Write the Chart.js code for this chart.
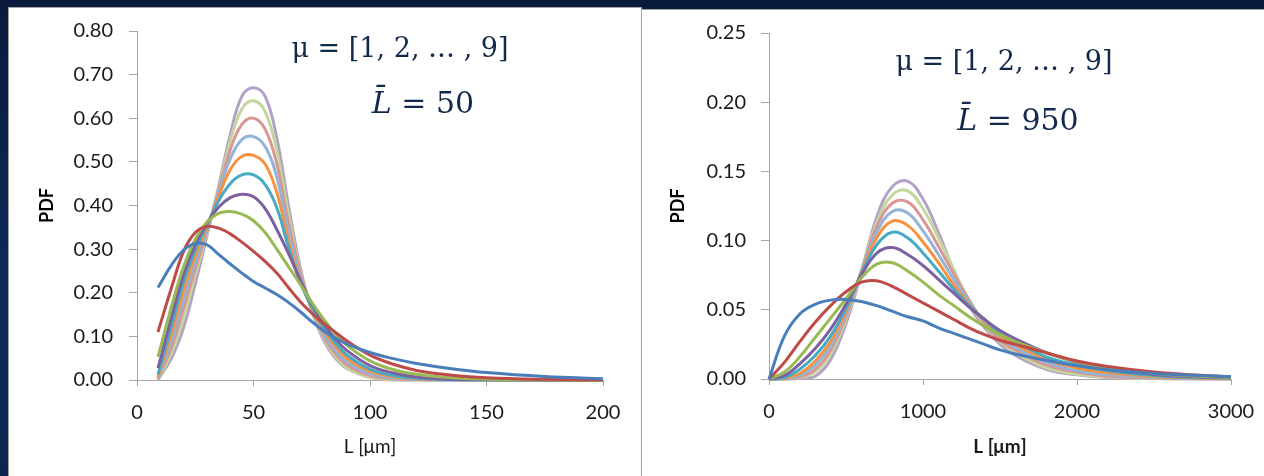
<!DOCTYPE html>
<html>
<head>
<meta charset="utf-8">
<script src="https://cdn.jsdelivr.net/npm/chart.js@4.4.0/dist/chart.umd.min.js"></script>
<style>
  html, body { margin: 0; padding: 0; }
  body { width: 1264px; height: 476px; overflow: hidden; position: relative;
         background: linear-gradient(180deg, #0a1a3c 0%, #0e2a5a 60%, #0c2550 100%); }
  .panel { position: absolute; background: #fff; box-sizing: border-box; border: 1px solid #a3a3a3; }
  canvas { position: absolute; }
  .ann { position: absolute; transform: translate(-50%, -50%); white-space: pre;
         font-family: "DejaVu Serif", "Liberation Serif", serif; color: #13294b; font-size: 27px; }
  .ann.big { font-size: 30px; }
  .ann i { font-style: italic; }
</style>
</head>
<body>
<div class="panel" style="left:8px; top:7px; width:634px; height:480px;"></div>
<div class="panel" style="left:641px; top:9px; width:630px; height:480px;"></div>
<canvas id="c1" width="632" height="469" style="left:8px; top:7px;"></canvas>
<canvas id="c2" width="623" height="467" style="left:641px; top:9px;"></canvas>
<div class="ann" style="left:400px; top:47px;">μ = [1, 2, … , 9]</div>
<div class="ann big" style="left:423px; top:102px;"><i>L̄</i> = 50</div>
<div class="ann" style="left:1004px; top:60px;">μ = [1, 2, … , 9]</div>
<div class="ann big" style="left:1018px; top:119px;"><i>L̄</i> = 950</div>
<script>
// ---------- Left chart data (L̄ = 50) ----------
const leftL = [9, 15, 20, 25, 30, 35, 40, 45, 50, 55, 60, 65, 70, 75, 80, 85, 90, 100, 110, 120, 135, 150, 175, 200];
const leftMu1 = [0.212, 0.265, 0.298, 0.313, 0.310, 0.288, 0.266, 0.245, 0.226, 0.211, 0.196, 0.178, 0.157, 0.134, 0.113, 0.097, 0.083, 0.063, 0.049, 0.038, 0.026, 0.017, 0.008, 0.003];
const leftMu2 = [0.110, 0.215, 0.295, 0.338, 0.352, 0.348, 0.335, 0.316, 0.295, 0.272, 0.245, 0.212, 0.180, 0.153, 0.130, 0.110, 0.090, 0.057, 0.036, 0.022, 0.011, 0.005, 0.0015, 0.0005];
const leftMu3 = [0.053, 0.172, 0.260, 0.323, 0.362, 0.382, 0.386, 0.380, 0.365, 0.338, 0.300, 0.260, 0.220, 0.178, 0.140, 0.107, 0.080, 0.044, 0.024, 0.013, 0.005, 0.002, 0.0005, 0];
const leftMu4 = [0.027, 0.148, 0.242, 0.310, 0.360, 0.396, 0.418, 0.426, 0.420, 0.393, 0.345, 0.290, 0.230, 0.175, 0.130, 0.095, 0.068, 0.033, 0.016, 0.007, 0.002, 0.001, 0, 0];
const leftMu5 = [0.013, 0.128, 0.225, 0.298, 0.355, 0.410, 0.450, 0.470, 0.470, 0.448, 0.395, 0.305, 0.225, 0.168, 0.122, 0.086, 0.058, 0.025, 0.010, 0.004, 0.001, 0, 0, 0];
const leftMu6 = [0.007, 0.110, 0.205, 0.285, 0.350, 0.420, 0.482, 0.513, 0.515, 0.495, 0.430, 0.320, 0.230, 0.165, 0.115, 0.078, 0.050, 0.020, 0.008, 0.003, 0.001, 0, 0, 0];
const leftMu7 = [0.004, 0.093, 0.185, 0.270, 0.345, 0.428, 0.507, 0.551, 0.558, 0.535, 0.465, 0.340, 0.238, 0.163, 0.107, 0.068, 0.042, 0.014, 0.005, 0.002, 0, 0, 0, 0];
const leftMu8 = [0.002, 0.078, 0.165, 0.255, 0.340, 0.433, 0.527, 0.586, 0.600, 0.575, 0.495, 0.360, 0.248, 0.163, 0.102, 0.062, 0.035, 0.010, 0.003, 0.001, 0, 0, 0, 0];
const leftMu9 = [0.001, 0.064, 0.142, 0.240, 0.335, 0.438, 0.547, 0.621, 0.640, 0.615, 0.525, 0.380, 0.253, 0.160, 0.097, 0.055, 0.029, 0.007, 0.001, 0, 0, 0, 0, 0];
const leftMu10 = [0.000, 0.052, 0.120, 0.220, 0.330, 0.443, 0.562, 0.650, 0.670, 0.650, 0.555, 0.400, 0.260, 0.158, 0.092, 0.051, 0.027, 0.006, 0, 0, 0, 0, 0, 0];
const leftXTicks = [0, 50, 100, 150, 200];
const leftYTicks = [0, 0.1, 0.2, 0.3, 0.4, 0.5, 0.6, 0.7, 0.8];

// ---------- Right chart data (L̄ = 950) ----------
const rightL = [0, 100, 200, 300, 400, 500, 600, 700, 800, 900, 1000, 1100, 1200, 1300, 1400, 1500, 1600, 1800, 2000, 2200, 2500, 2800, 3000];
const rightMu1 = [0, 0.031, 0.047, 0.054, 0.057, 0.0575, 0.056, 0.053, 0.049, 0.045, 0.042, 0.037, 0.033, 0.029, 0.025, 0.021, 0.018, 0.0135, 0.0095, 0.0067, 0.004, 0.0025, 0.0018];
const rightMu2 = [0, 0.012, 0.027, 0.041, 0.053, 0.063, 0.070, 0.071, 0.067, 0.061, 0.055, 0.049, 0.043, 0.037, 0.032, 0.028, 0.025, 0.019, 0.013, 0.009, 0.005, 0.0027, 0.0017];
const rightMu3 = [0, 0.005, 0.016, 0.030, 0.044, 0.058, 0.073, 0.083, 0.084, 0.078, 0.070, 0.061, 0.053, 0.045, 0.038, 0.032, 0.027, 0.019, 0.0125, 0.008, 0.004, 0.002, 0.0012];
const rightMu4 = [0, 0.0025, 0.011, 0.022, 0.036, 0.054, 0.075, 0.091, 0.095, 0.090, 0.082, 0.072, 0.062, 0.052, 0.043, 0.035, 0.029, 0.019, 0.012, 0.007, 0.0033, 0.0015, 0.001];
const rightMu5 = [0, 0.001, 0.007, 0.017, 0.031, 0.051, 0.076, 0.097, 0.106, 0.102, 0.091, 0.078, 0.065, 0.053, 0.043, 0.033, 0.027, 0.016, 0.010, 0.006, 0.0025, 0.001, 0.0006];
const rightMu6 = [0, 0.0005, 0.004, 0.013, 0.027, 0.049, 0.077, 0.102, 0.114, 0.111, 0.099, 0.084, 0.068, 0.054, 0.042, 0.031, 0.025, 0.014, 0.008, 0.0045, 0.0018, 0.0007, 0.0004];
const rightMu7 = [0, 0.0002, 0.0025, 0.010, 0.024, 0.047, 0.078, 0.106, 0.121, 0.120, 0.107, 0.090, 0.072, 0.056, 0.041, 0.030, 0.023, 0.012, 0.006, 0.003, 0.001, 0.0004, 0.0002];
const rightMu8 = [0, 0.0001, 0.0015, 0.007, 0.021, 0.045, 0.078, 0.110, 0.127, 0.128, 0.115, 0.096, 0.076, 0.057, 0.040, 0.028, 0.021, 0.010, 0.005, 0.002, 0.0007, 0.0002, 0.0001];
const rightMu9 = [0, 0, 0.001, 0.005, 0.018, 0.043, 0.078, 0.113, 0.133, 0.136, 0.123, 0.102, 0.079, 0.056, 0.039, 0.027, 0.019, 0.008, 0.0035, 0.0015, 0.0004, 0.0001, 0];
const rightMu10 = [0, 0, 0.0005, 0.002, 0.014, 0.040, 0.077, 0.117, 0.139, 0.143, 0.130, 0.106, 0.078, 0.053, 0.037, 0.025, 0.017, 0.007, 0.003, 0.001, 0.0003, 0, 0];
const rightXTicks = [0, 1000, 2000, 3000];
const rightYTicks = [0, 0.05, 0.1, 0.15, 0.2, 0.25];

const seriesColors = ['#4A7EBB', '#BE4B48', '#98B954', '#7D60A0', '#46AAC5', '#F69240', '#93B3D9', '#D99694', '#C3D69B', '#B3A2C7'];
const seriesNames = ['μ=0', 'μ=1', 'μ=2', 'μ=3', 'μ=4', 'μ=5', 'μ=6', 'μ=7', 'μ=8', 'μ=9'];

const leftSeries = [leftMu1, leftMu2, leftMu3, leftMu4, leftMu5, leftMu6, leftMu7, leftMu8, leftMu9, leftMu10];
const rightSeries = [rightMu1, rightMu2, rightMu3, rightMu4, rightMu5, rightMu6, rightMu7, rightMu8, rightMu9, rightMu10];

function makeDatasets(xs, series) {
  return series.map((ys, i) => ({
    label: seriesNames[i],
    data: xs.map((x, j) => ({ x: x, y: ys[j] })),
    borderColor: seriesColors[i],
    backgroundColor: seriesColors[i],
    borderWidth: 3,
    pointRadius: 0,
    fill: false,
    tension: 0.4,
    clip: 4
  }));
}

const tickFont = { family: 'Lato, "Open Sans", sans-serif', size: 20 };
const axisGray = '#a6a6a6';

function makeChart(id, xs, series, cfg) {
  return new Chart(document.getElementById(id), {
    type: 'line',
    data: { datasets: makeDatasets(xs, series) },
    options: {
      responsive: false,
      animation: false,
      events: [],
      layout: { padding: { top: cfg.padTop, right: cfg.padRight, left: 0, bottom: 0 } },
      plugins: { legend: { display: false }, tooltip: { enabled: false } },
      scales: {
        x: {
          type: 'linear',
          min: cfg.xTicks[0], max: cfg.xTicks[cfg.xTicks.length - 1],
          afterBuildTicks: s => { s.ticks = cfg.xTicks.map(v => ({ value: v })); },
          afterFit: s => { s.height = cfg.xHeight; s.paddingLeft = 0; s.paddingRight = 0; },
          grid: { drawOnChartArea: false, drawTicks: true, tickLength: 6, color: axisGray },
          border: { display: true, color: axisGray, width: 1 },
          ticks: { font: tickFont, color: '#1a1a1a', padding: 15, maxRotation: 0, autoSkip: false,
                   callback: v => String(v) },
          title: { display: true, text: 'L [μm]', color: '#1a1a1a',
                   font: { family: 'Lato, "Open Sans", sans-serif', size: 19, weight: cfg.xTitleWeight },
                   padding: { top: 0, bottom: cfg.xTitlePad } }
        },
        y: {
          type: 'linear',
          min: cfg.yTicks[0], max: cfg.yTicks[cfg.yTicks.length - 1],
          afterBuildTicks: s => { s.ticks = cfg.yTicks.map(v => ({ value: v })); },
          afterFit: s => { s.width = cfg.yWidth; s.paddingTop = 0; s.paddingBottom = 0; },
          grid: { drawOnChartArea: false, drawTicks: true, tickLength: 8, color: axisGray },
          border: { display: true, color: axisGray, width: 1 },
          ticks: { font: tickFont, color: '#1a1a1a', padding: cfg.yTickPad, autoSkip: false,
                   callback: v => Number(v).toFixed(2) },
          title: { display: true, text: 'PDF', color: '#000',
                   font: { family: 'Lato, "Open Sans", sans-serif', size: 18, weight: 'bold' },
                   padding: { top: cfg.yTitlePad, bottom: 0 } }
        }
      }
    }
  });
}

makeChart('c1', leftL, leftSeries, {
  padTop: 24, padRight: 37, xHeight: 96, yWidth: 129, yTickPad: 16,
  xTicks: leftXTicks, yTicks: leftYTicks, xTitleWeight: 'normal', xTitlePad: 17.6, yTitlePad: 28.2
});
makeChart('c2', rightL, rightSeries, {
  padTop: 24, padRight: 33, xHeight: 97, yWidth: 128, yTickPad: 15,
  xTicks: rightXTicks, yTicks: rightYTicks, xTitleWeight: 'bold', xTitlePad: 17.6, yTitlePad: 26.2
});
</script>
</body>
</html>
